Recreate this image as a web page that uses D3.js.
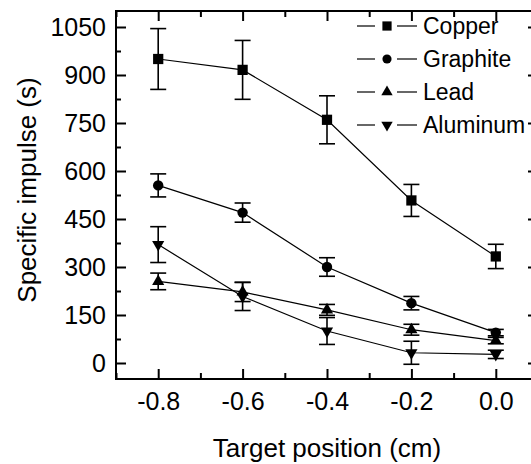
<!DOCTYPE html>
<html lang="en">
<head>
	<meta charset="utf-8">
	<title>Specific impulse</title>
	<script type="text/javascript" src="https://cdn.jsdelivr.net/npm/d3@7"></script>
	<style>
		body { margin: 0; background: white; }
		text { font-family: "Liberation Sans", Arial, sans-serif; fill: black; }
		.axis path.domain { display: none; }
		.axis line { stroke: black; stroke-width: 2; }
	</style>
</head>

<body>
	<script type="text/javascript">
		var w = 531;
		var h = 464;

		// target positions (cm)
		var positions = [-0.8, -0.6, -0.4, -0.2, 0.0];

		// specific impulse (s) and error bars for each material
		var copper = [950, 916, 760, 508, 333];
		var copperErr = [95, 92, 75, 50, 38];
		var graphite = [555, 470, 300, 187, 95];
		var graphiteErr = [36, 30, 29, 21, 10];
		var lead = [255, 222, 166, 104, 70];
		var leadErr = [26, 30, 17, 17, 10];
		var aluminum = [370, 208, 100, 32, 27];
		var aluminumErr = [56, 44, 42, 36, 13];

		var names = ["Copper", "Graphite", "Lead", "Aluminum"];

		var xTicks = [-0.8, -0.6, -0.4, -0.2, 0.0];
		var xMinor = [-0.9, -0.7, -0.5, -0.3, -0.1, 0.1];
		var yTicks = [0, 150, 300, 450, 600, 750, 900, 1050];
		var yMinor = [75, 225, 375, 525, 675, 825, 975];

		// marker shape and sizes (plot, legend) per series
		var series = [
			{ name: names[0], values: copper, err: copperErr, symbol: d3.symbolSquare, size: 105, lsize: 85, flip: false },
			{ name: names[1], values: graphite, err: graphiteErr, symbol: d3.symbolCircle, size: 85, lsize: 66, flip: false },
			{ name: names[2], values: lead, err: leadErr, symbol: d3.symbolTriangle, size: 64, lsize: 56, flip: false },
			{ name: names[3], values: aluminum, err: aluminumErr, symbol: d3.symbolTriangle, size: 64, lsize: 56, flip: true }
		];

		// plot frame (right edge sits just outside the picture)
		var pLeft = 116, pRight = 538, pTop = 11, pBottom = 379;

		var x = d3.scaleLinear().domain([-0.9, 0.1]).range([pLeft, pRight]);
		var y = d3.scaleLinear().domain([-50, 1100]).range([pBottom, pTop]);

		var svg = d3.select("body")
					.append("svg")
					.attr("width", w)
					.attr("height", h);

		var fmtX = function(d) { return d3.format(".1f")(d).replace("\u2212", "-"); };

		// ticks pointing inwards on all four sides
		svg.append("g").attr("class", "axis")
		   .attr("transform", "translate(0," + pBottom + ")")
		   .call(d3.axisBottom(x).tickValues(xTicks).tickSize(-10).tickPadding(13).tickFormat(fmtX))
		   .selectAll("text").style("font-size", "25px");

		svg.append("g").attr("class", "axis")
		   .attr("transform", "translate(0," + pBottom + ")")
		   .call(d3.axisBottom(x).tickValues(xMinor).tickSize(-6).tickFormat(""));

		svg.append("g").attr("class", "axis")
		   .attr("transform", "translate(0," + pTop + ")")
		   .call(d3.axisTop(x).tickValues(xTicks).tickSize(-10).tickFormat(""));

		svg.append("g").attr("class", "axis")
		   .attr("transform", "translate(0," + pTop + ")")
		   .call(d3.axisTop(x).tickValues(xMinor).tickSize(-6).tickFormat(""));

		svg.append("g").attr("class", "axis")
		   .attr("transform", "translate(" + pLeft + ",0)")
		   .call(d3.axisLeft(y).tickValues(yTicks).tickSize(-10).tickPadding(10).tickFormat(d3.format("d")))
		   .selectAll("text").style("font-size", "25px");

		svg.append("g").attr("class", "axis")
		   .attr("transform", "translate(" + pLeft + ",0)")
		   .call(d3.axisLeft(y).tickValues(yMinor).tickSize(-5).tickFormat(""));

		svg.append("g").attr("class", "axis")
		   .attr("transform", "translate(" + pRight + ",0)")
		   .call(d3.axisRight(y).tickValues(yTicks).tickSize(-10).tickFormat(""));

		svg.append("g").attr("class", "axis")
		   .attr("transform", "translate(" + pRight + ",0)")
		   .call(d3.axisRight(y).tickValues(yMinor).tickSize(-5).tickFormat(""));

		// frame
		svg.append("rect")
		   .attr("x", pLeft).attr("y", pTop)
		   .attr("width", pRight - pLeft).attr("height", pBottom - pTop)
		   .attr("fill", "none").attr("stroke", "black").attr("stroke-width", 2);

		// axis titles
		svg.append("text")
		   .attr("x", (pLeft + pRight) / 2).attr("y", 457)
		   .attr("text-anchor", "middle")
		   .style("font-size", "26px")
		   .text("Target position (cm)");

		svg.append("text")
		   .attr("transform", "translate(36,190) rotate(-90)")
		   .attr("text-anchor", "middle")
		   .style("font-size", "26px")
		   .text("Specific impulse (s)");

		var line = d3.line()
					 .x(function(d, i) { return x(positions[i]); })
					 .y(function(d) { return y(d); });

		var marker = function(s, size) {
			return d3.symbol().type(s.symbol).size(size)();
		};

		series.forEach(function(s) {
			var g = svg.append("g");

			g.append("path")
			 .attr("d", line(s.values))
			 .attr("fill", "none")
			 .attr("stroke", "black")
			 .attr("stroke-width", 1.2);

			// error bars
			var bars = g.selectAll(".err")
						.data(s.values)
						.enter()
						.append("g");

			bars.append("line")
				.attr("x1", function(d, i) { return x(positions[i]); })
				.attr("x2", function(d, i) { return x(positions[i]); })
				.attr("y1", function(d, i) { return y(d - s.err[i]); })
				.attr("y2", function(d, i) { return y(d + s.err[i]); })
				.attr("stroke", "black").attr("stroke-width", 1.6);

			[-1, 1].forEach(function(k) {
				bars.append("line")
					.attr("x1", function(d, i) { return x(positions[i]) - 8; })
					.attr("x2", function(d, i) { return x(positions[i]) + 8; })
					.attr("y1", function(d, i) { return y(d + k * s.err[i]); })
					.attr("y2", function(d, i) { return y(d + k * s.err[i]); })
					.attr("stroke", "black").attr("stroke-width", 1.6);
			});

			g.selectAll(".pt")
			 .data(s.values)
			 .enter()
			 .append("path")
			 .attr("d", marker(s, s.size))
			 .attr("transform", function(d, i) {
				 return "translate(" + x(positions[i]) + "," + y(d) + ")" + (s.flip ? " rotate(180)" : "");
			 })
			 .attr("fill", "black");
		});

		// legend
		var legend = svg.append("g").attr("transform", "translate(387,26)");

		series.forEach(function(s, i) {
			var item = legend.append("g").attr("transform", "translate(0," + (i * 33) + ")");
			item.append("line").attr("x1", -30).attr("x2", -12).attr("y1", 0).attr("y2", 0)
				.attr("stroke", "black").attr("stroke-width", 1.2);
			item.append("line").attr("x1", 10).attr("x2", 30).attr("y1", 0).attr("y2", 0)
				.attr("stroke", "black").attr("stroke-width", 1.2);
			item.append("path")
				.attr("d", marker(s, s.lsize))
				.attr("transform", s.flip ? "rotate(180)" : null)
				.attr("fill", "black");
			item.append("text")
				.attr("x", 36).attr("y", 0).attr("dy", "0.35em")
				.style("font-size", "23px")
				.text(s.name);
		});
	</script>
</body>
</html>
